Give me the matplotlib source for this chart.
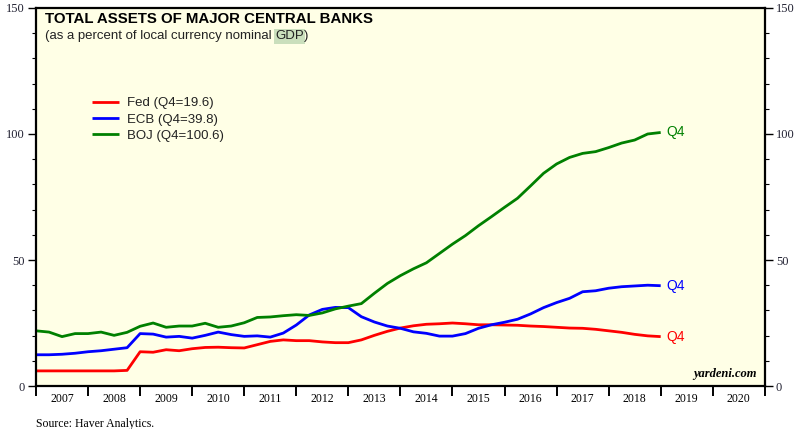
import numpy as np
import matplotlib.pyplot as plt
from matplotlib.ticker import MultipleLocator, FixedLocator, NullFormatter

# quarterly, plotted at quarter end: Q4 2006 ... Q4 2018
quarters = 2007.0 + 0.25 * np.arange(49)

fed = [6.0, 6.0, 6.0, 6.0, 6.0, 6.0, 6.0, 6.2,
       13.6, 13.4, 14.4, 14.0, 14.8, 15.3, 15.4, 15.2,
       15.1, 16.4, 17.7, 18.3, 18.0, 18.0, 17.5, 17.2,
       17.2, 18.3, 20.1, 21.7, 23.0, 23.9, 24.5, 24.7,
       25.0, 24.7, 24.3, 24.3, 24.2, 24.1, 23.8, 23.6,
       23.3, 23.0, 22.9, 22.5, 21.9, 21.3, 20.5, 19.9,
       19.6]
ecb = [12.4, 12.4, 12.6, 13.0, 13.6, 14.0, 14.6, 15.2,
       20.8, 20.6, 19.4, 19.7, 19.0, 20.1, 21.4, 20.4,
       19.7, 19.9, 19.4, 21.0, 24.2, 28.2, 30.4, 31.2,
       31.1, 27.5, 25.4, 23.8, 22.9, 21.5, 20.9, 19.8,
       19.8, 20.8, 22.9, 24.3, 25.3, 26.5, 28.6, 31.1,
       33.1, 34.8, 37.4, 37.8, 38.8, 39.4, 39.7, 40.0,
       39.8]
boj = [21.9, 21.4, 19.6, 20.8, 20.8, 21.4, 20.1, 21.3,
       23.7, 25.0, 23.3, 23.8, 23.8, 24.9, 23.3, 23.8,
       25.1, 27.2, 27.4, 27.9, 28.3, 28.0, 29.0, 30.6,
       31.7, 32.7, 36.8, 40.7, 43.8, 46.5, 48.9, 52.6,
       56.3, 59.7, 63.6, 67.2, 70.9, 74.5, 79.4, 84.4,
       88.1, 90.7, 92.3, 93.0, 94.6, 96.4, 97.6, 100.0,
       100.6]

series = [
    ("Fed (Q4=19.6)", fed, "#ff0000"),
    ("ECB (Q4=39.8)", ecb, "#0000ff"),
    ("BOJ (Q4=100.6)", boj, "#008000"),
]
years = np.arange(2007, 2021)

SANS = "Liberation Sans"
SERIF = "Liberation Serif"

fig = plt.figure(figsize=(8.0, 4.29), dpi=100)
ax = fig.add_axes([0.045, 0.1002, 0.911, 0.8812])
ax.set_facecolor("#ffffe6")

handles = []
for label, vals, col in series:
    h, = ax.plot(quarters, vals, color=col, lw=2.0, label=label, solid_capstyle="butt")
    handles.append(h)
    ax.annotate("Q4", xy=(quarters[-1], vals[-1]), xytext=(4, 0),
                textcoords="offset points", va="center", ha="left",
                color=col, fontsize=10, family=SANS)

ax.set_xlim(2007, 2021)
ax.set_ylim(0, 150)

for s in ax.spines.values():
    s.set_linewidth(1.6)

# y axis, both sides
ax.yaxis.set_major_locator(MultipleLocator(50))
ax.yaxis.set_minor_locator(MultipleLocator(10))
ax.tick_params(axis="y", which="major", length=6, width=1, labelsize=9,
               left=True, right=True, labelleft=True, labelright=True, pad=2,
               labelcolor="#222233")
ax.tick_params(axis="y", which="minor", length=3, width=0.8, left=True, right=True)
for t in ax.get_yticklabels():
    t.set_family(SERIF)

# x axis: ticks at year boundaries, labels centred in between
ax.xaxis.set_major_locator(FixedLocator(list(years) + [2021]))
ax.xaxis.set_major_formatter(NullFormatter())
ax.xaxis.set_minor_locator(FixedLocator(years + 0.5))
ax.set_xticklabels([str(y) for y in years], minor=True)
ax.tick_params(axis="x", which="major", length=7, width=1.4, direction="out")
ax.tick_params(axis="x", which="minor", length=0, labelsize=8.5, pad=5)
for t in ax.get_xticklabels(minor=True):
    t.set_family(SERIF)

ax.text(0.012, 0.972, "TOTAL ASSETS OF MAJOR CENTRAL BANKS", transform=ax.transAxes,
        fontsize=10.8, fontweight="bold", family=SANS, va="center")
sub = ax.text(0.012, 0.925, "(as a percent of local currency nominal ", transform=ax.transAxes,
              fontsize=9.5, family=SANS, va="center", color="#222222")
gdp = ax.annotate("GDP", xy=(1, 0.5), xycoords=sub, va="center", ha="left",
                  fontsize=9.5, family=SANS, color="#222222",
                  bbox=dict(boxstyle="square,pad=0.1", fc="#cadfbc", ec="none"))
ax.annotate(")", xy=(1, 0.5), xycoords=gdp, va="center", ha="left",
            fontsize=9.5, family=SANS, color="#222222")

leg = ax.legend(handles=handles, loc="upper left", bbox_to_anchor=(0.069, 0.778),
                frameon=False, fontsize=9.5, handlelength=2.1, handletextpad=0.6,
                labelspacing=0.3, borderaxespad=0)
for t in leg.get_texts():
    t.set_family(SANS)
    t.set_color("#222222")

ax.text(0.989, 0.015, "yardeni.com", transform=ax.transAxes, ha="right", va="bottom",
        fontsize=9, family=SERIF, fontweight="bold", style="italic")
fig.text(0.045, 0.012, "Source: Haver Analytics.", fontsize=8.5, family=SERIF, va="center")

fig.savefig("out.png", dpi=100)
